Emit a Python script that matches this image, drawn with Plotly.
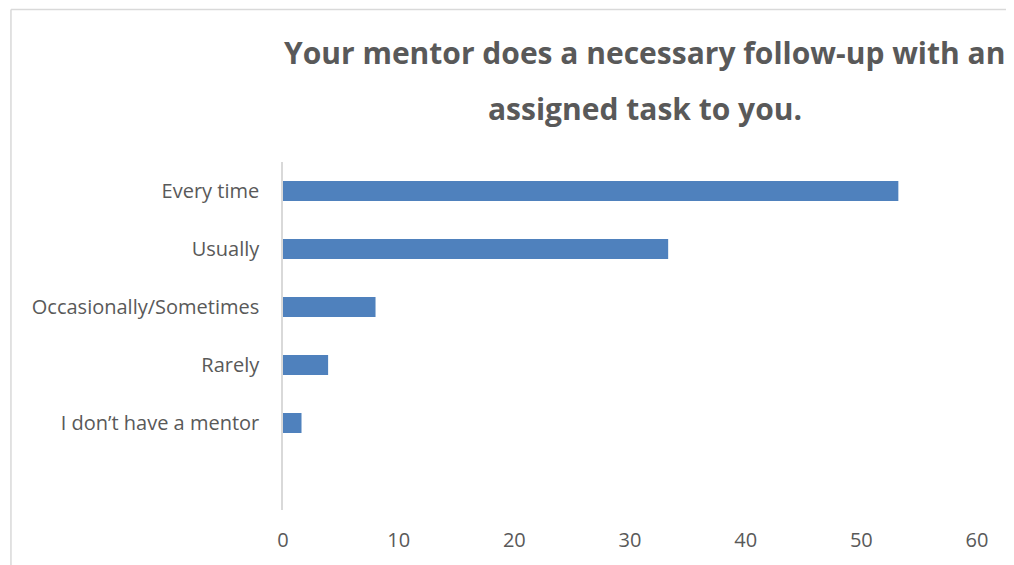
import plotly.graph_objects as go

# Survey responses (percent of respondents)
CATEGORIES = [
    "Every time",
    "Usually",
    "Occasionally/Sometimes",
    "Rarely",
    "I don\u2019t have a mentor",
]
VALUES = [53.2, 33.3, 8.0, 3.9, 1.6]
X_TICKS = [0, 10, 20, 30, 40, 50, 60]

TITLE_LINES = [
    "Your mentor does a necessary follow-up with an",
    "assigned task to you.",
]

BAR_COLOR = "#4f81bd"
TEXT_COLOR = "#595959"
LINE_COLOR = "#d9d9d9"
FONT = "Open Sans, sans-serif"

positions = list(range(len(CATEGORIES)))

fig = go.Figure(
    go.Bar(
        x=VALUES,
        y=positions,
        orientation="h",
        width=0.345,
        marker=dict(color=BAR_COLOR, line=dict(width=0)),
        hovertemplate="%{text}: %{x}<extra></extra>",
        text=CATEGORIES,
        textposition="none",
    )
)

# page body has an 8px margin, so margins are shifted up/left by 8px
fig.update_layout(
    width=1014,
    height=565,
    margin=dict(l=275, r=45, t=154, b=63),
    paper_bgcolor="white",
    plot_bgcolor="white",
    font=dict(family=FONT, color=TEXT_COLOR, size=20),
    showlegend=False,
    xaxis=dict(
        range=[0, 60],
        tickvals=X_TICKS,
        showgrid=False,
        zeroline=False,
        showline=False,
        ticks="",
        ticklabelstandoff=16,
        tickfont=dict(size=20, color=TEXT_COLOR),
    ),
    yaxis=dict(
        range=[5.5, -0.5],
        tickvals=positions,
        ticktext=CATEGORIES,
        showgrid=False,
        zeroline=False,
        showline=True,
        linecolor=LINE_COLOR,
        linewidth=1.5,
        ticks="",
        ticklabelstandoff=18,
        tickfont=dict(size=20, color=TEXT_COLOR),
    ),
)

# two-line title, placed as separate annotations to get the wide line gap
title_y = [1.316, 1.155]
for line, yy in zip(TITLE_LINES, title_y):
    fig.add_annotation(
        text="<b>" + line + "</b>",
        x=0.521, y=yy,
        xref="paper", yref="paper",
        xanchor="center", yanchor="middle",
        showarrow=False,
        font=dict(family=FONT, size=30, color=TEXT_COLOR),
    )

# chart area border (top and left edges visible in the crop)
fig.add_shape(type="line", xref="paper", yref="paper",
              x0=-0.392, y0=1.438, x1=1.2, y1=1.438,
              line=dict(color=LINE_COLOR, width=1.5))
fig.add_shape(type="line", xref="paper", yref="paper",
              x0=-0.392, y0=1.438, x1=-0.392, y1=-0.3,
              line=dict(color=LINE_COLOR, width=1.5))

fig.write_html("out.html")
